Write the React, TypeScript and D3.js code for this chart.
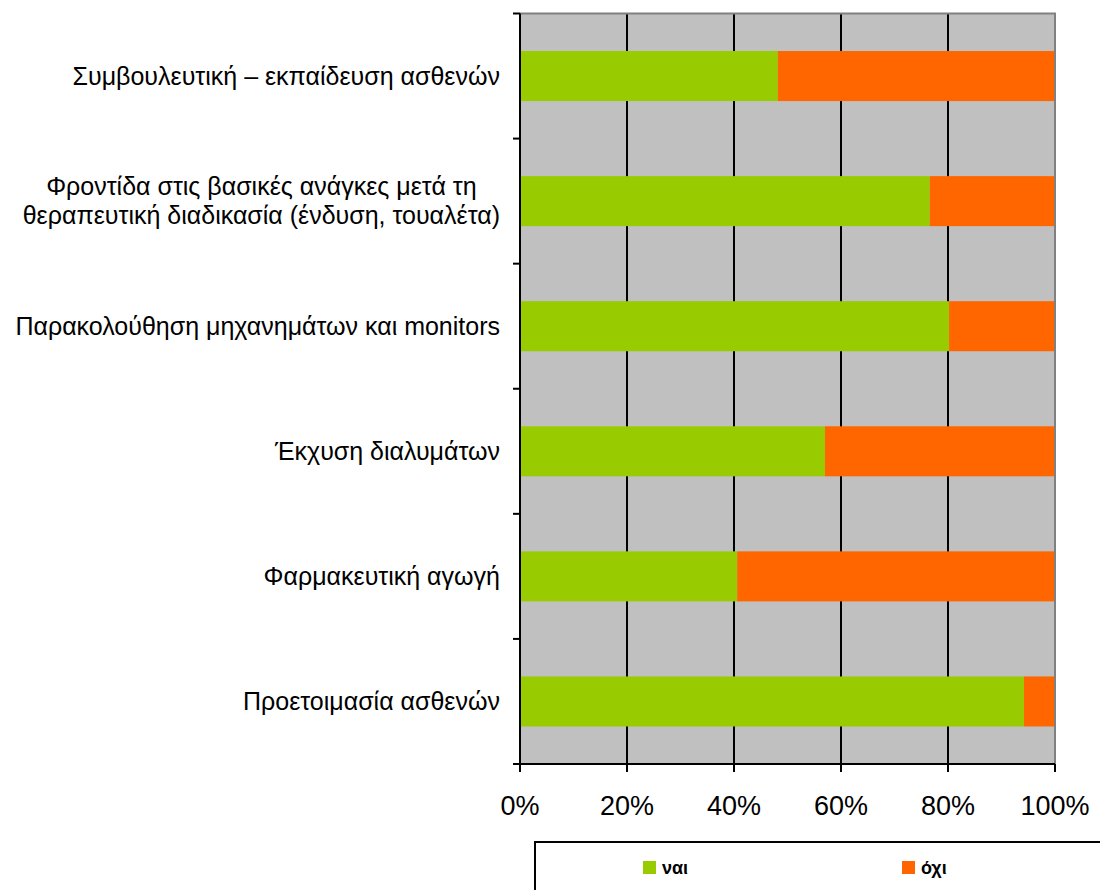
import React, { useEffect, useRef } from "react";
import * as d3 from "d3";

const categories: string[][] = [
  ["Συμβουλευτική – εκπαίδευση ασθενών"],
  ["Φροντίδα στις βασικές ανάγκες μετά τη", "θεραπευτική διαδικασία (ένδυση, τουαλέτα)"],
  ["Παρακολούθηση μηχανημάτων και monitors"],
  ["Έκχυση διαλυμάτων"],
  ["Φαρμακευτική αγωγή"],
  ["Προετοιμασία ασθενών"],
];
const yesValues = [48.2, 76.6, 80.2, 57.0, 40.6, 94.2];
const noValues = yesValues.map((v) => 100 - v);
const seriesNames = ["ναι", "όχι"];
const seriesColors = ["#99CC00", "#FF6600"];
const xTicks = [0, 20, 40, 60, 80, 100];

export default function App() {
  const ref = useRef<SVGSVGElement>(null);
  useEffect(() => {
    const svg = d3.select(ref.current);
    svg.selectAll("*").remove();
    const font = "'Liberation Sans', Arial, sans-serif";
    const left = 520, right = 1055, top = 13.5, bottom = 764;
    const x = d3.scaleLinear().domain([0, 100]).range([left, right]);
    const y = d3
      .scaleBand<number>()
      .domain(d3.range(categories.length))
      .range([top, bottom])
      .paddingInner(0.6)
      .paddingOuter(0.3);
    const yOuter = d3.scaleBand<number>().domain(d3.range(categories.length)).range([top, bottom]);

    svg.append("rect").attr("x", left).attr("y", top).attr("width", right - left).attr("height", bottom - top).attr("fill", "#C0C0C0");
    svg.append("g").selectAll("line").data(xTicks.slice(1, -1)).join("line")
      .attr("x1", (d) => x(d)).attr("x2", (d) => x(d)).attr("y1", top).attr("y2", bottom)
      .attr("stroke", "#000").attr("stroke-width", 2);

    const stacked = d3.stack<number>().keys(["0", "1"]).value((i, k) => (k === "0" ? yesValues[i] : noValues[i]))(d3.range(categories.length));
    stacked.forEach((layer, li) => {
      svg.append("g").selectAll("rect").data(layer).join("rect")
        .attr("x", (d) => x(d[0]))
        .attr("width", (d) => x(d[1]) - x(d[0]))
        .attr("y", (d, i) => y(i)!)
        .attr("height", y.bandwidth())
        .attr("fill", seriesColors[li]);
    });

    svg.append("path").attr("d", `M${left},${top}H${right}V${bottom}`).attr("fill", "none").attr("stroke", "#808080").attr("stroke-width", 2);

    svg.append("line").attr("x1", left).attr("x2", left).attr("y1", top).attr("y2", bottom).attr("stroke", "#000").attr("stroke-width", 2);
    svg.append("line").attr("x1", left - 7).attr("x2", right).attr("y1", bottom).attr("y2", bottom).attr("stroke", "#000").attr("stroke-width", 2);
    const yb = d3.range(categories.length).map((i) => yOuter(i)!);
    svg.append("g").selectAll("line").data(yb).join("line")
      .attr("x1", left - 7).attr("x2", left).attr("y1", (d) => d).attr("y2", (d) => d)
      .attr("stroke", "#000").attr("stroke-width", 2);
    svg.append("g").selectAll("line").data(xTicks).join("line")
      .attr("x1", (d) => x(d)).attr("x2", (d) => x(d)).attr("y1", bottom).attr("y2", bottom + 8)
      .attr("stroke", "#000").attr("stroke-width", 2);
    svg.append("g").selectAll("text").data(xTicks).join("text")
      .attr("x", (d) => x(d)).attr("y", 815)
      .attr("text-anchor", "middle").attr("font-family", font).attr("font-size", 27).attr("fill", "#000")
      .text((d) => `${d}%`);

    const labelRight = 500;
    const lineH = 29;
    categories.forEach((lines, i) => {
      const cy = y(i)! + y.bandwidth() / 2;
      const g = svg.append("g");
      const texts = lines.map((t, j) =>
        g.append("text")
          .attr("y", cy + (j - (lines.length - 1) / 2) * lineH)
          .attr("dy", "0.35em")
          .attr("font-family", font).attr("font-size", 25).attr("fill", "#000")
          .text(t)
      );
      const widths = texts.map((t) => (t.node() as SVGTextElement).getComputedTextLength());
      const maxW = Math.max(...widths);
      const cx = labelRight - maxW / 2;
      texts.forEach((t) => t.attr("x", cx).attr("text-anchor", "middle"));
    });

    svg.append("rect").attr("x", 535).attr("y", 842).attr("width", 600).attr("height", 100)
      .attr("fill", "#fff").attr("stroke", "#000").attr("stroke-width", 2);
    const legX = [643, 902];
    seriesNames.forEach((n, i) => {
      svg.append("rect").attr("x", legX[i]).attr("y", 861).attr("width", 13).attr("height", 13).attr("fill", seriesColors[i]);
      svg.append("text").attr("x", legX[i] + 19).attr("y", 868).attr("dy", "0.35em")
        .attr("font-family", font).attr("font-size", 18).attr("font-weight", "bold").attr("fill", "#000").text(n);
    });
  }, []);
  return (
    <svg ref={ref} width={1100} height={890} style={{ position: "absolute", left: 0, top: 0, background: "#fff" }} />
  );
}
